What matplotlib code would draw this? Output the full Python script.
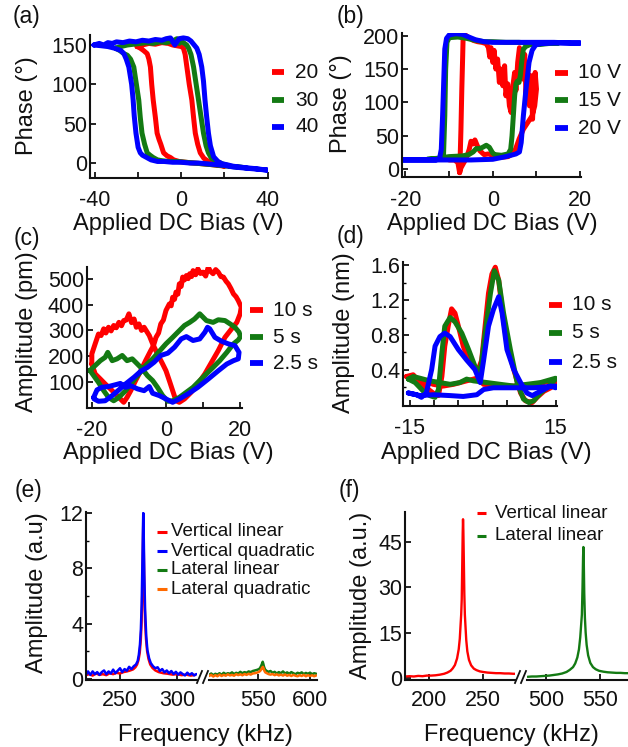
import matplotlib
matplotlib.use('Agg')
import matplotlib.pyplot as plt
from matplotlib.lines import Line2D

plt.rcParams['font.family'] = ['Liberation Sans', 'DejaVu Sans']
plt.rcParams['axes.unicode_minus'] = False

# ---------------- colours ----------------
RED = '#ff0000'
GREEN = '#137a13'
BLUE = '#0000ff'
ORANGE = '#ff6a00'
TXT = '#111111'

# ---------------- (a) phase loops, bias amplitude 20/30/40 V ----------------
A_LABELS = ['20', '30', '40']
A_RED = [(-20.5, 148), (-18, 150), (-15, 152), (-12, 151), (-9, 153), (-6, 152), (-4, 150), (-2, 149), (0, 148),
         (1, 146), (1.8, 138), (2.6, 122), (3.7, 100), (4.9, 80), (5.7, 58), (6.5, 38), (7.6, 24), (8.8, 13),
         (10.5, 6), (12.6, 2), (14.5, 0), (16.5, -2), (18.5, -3), (20.3, -4),
         (17, -3), (14, -2), (10, -1), (6, 0), (2, 1), (-1, 2), (-3.5, 4), (-5, 7), (-6.5, 9), (-8.2, 13),
         (-9.5, 24), (-10.3, 30), (-11.2, 38), (-12, 58), (-13, 80), (-13.7, 100), (-14.3, 122), (-15, 132),
         (-15.8, 139), (-17.5, 143), (-19, 146), (-20.5, 148)]
A_GREEN = [(-30.5, 146), (-28, 148), (-25, 150), (-22, 151), (-19, 152), (-16, 153), (-13, 152), (-10, 154),
           (-7, 153), (-4, 155), (-2, 158), (-1, 152), (0, 155), (1.5, 152), (2.5, 150), (3.4, 146), (4.5, 138),
           (5.7, 122), (6.8, 102), (8, 80), (9.2, 58), (10.3, 38), (11.5, 22), (12.6, 13), (14, 6), (16.5, 2),
           (19, -1), (22.6, -4), (26, -5), (30, -6),
           (26, -5), (22, -4), (18, -3), (14, -2), (10, -1), (6, 0), (2, 1), (-2, 2), (-6, 2), (-9, 3),
           (-11, 4), (-13, 7), (-14.5, 10), (-15.8, 13), (-17, 24), (-18.2, 38), (-19, 58), (-19.7, 80),
           (-20.8, 100), (-22, 122), (-23.5, 132), (-25, 137), (-26.6, 139), (-28.5, 143), (-30.5, 146)]
A_BLUE = [(-40.5, 150), (-38, 152), (-36, 150), (-34, 153), (-32, 152), (-30, 154), (-27, 153), (-24, 155),
          (-21, 154), (-18, 156), (-15, 155), (-12, 157), (-9, 156), (-7, 158), (-5, 159), (-3, 150),
          (-1, 158), (1, 159), (3, 158), (4.5, 155), (6, 150), (7.2, 146), (8.3, 138), (9.5, 122),
          (10.3, 104), (11, 80), (11.8, 58), (12.6, 38), (13.5, 22), (15, 8), (17, 2), (19, -1), (21, -2),
          (24, -4), (27, -5), (30, -6), (34, -7), (37, -8), (40, -9),
          (36, -8), (32, -7), (28, -6), (24, -5), (20, -3), (16, -2), (12, -1), (8, 0), (4, 0), (0, 1),
          (-4, 1), (-8, 2), (-11, 2), (-14, 4), (-16, 7), (-18, 10), (-19, 13), (-20, 20), (-21, 38),
          (-21.8, 60), (-22.3, 80), (-23, 100), (-24.3, 122), (-25.5, 132), (-26.6, 139), (-28, 143),
          (-31, 146), (-34, 148), (-37, 149), (-40.5, 150)]

# ---------------- (b) phase loops, 10/15/20 V ----------------
B_LABELS = ['10 V', '15 V', '20 V']
B_RED = [(-10, 14), (-8.8, 14), (-8.0, 10), (-7.6, -5), (-7.5, 12), (-7.3, 60), (-7.1, 120), (-6.9, 170),
         (-6.8, 198), (-6.3, 201), (-5.5, 197), (-4.5, 193), (-3.5, 191), (-2.5, 190), (-1.5, 188),
         (-1.0, 182), (-0.7, 168), (-0.4, 182), (0, 160), (0.3, 178), (0.7, 150), (1.1, 165), (1.5, 130),
         (1.9, 150), (2.3, 125), (2.7, 155), (3.0, 110), (3.4, 128), (3.8, 95), (4.2, 85), (4.6, 125),
         (5.0, 145), (5.3, 118), (5.7, 160), (6.1, 182), (6.5, 165), (6.9, 135), (7.3, 172), (7.6, 110),
         (8.0, 150), (8.4, 95), (8.8, 140), (9.1, 75), (9.4, 120), (9.7, 145), (10.0, 120),
         (9.6, 95), (9.0, 80), (8.0, 70), (7.0, 60), (6.0, 45), (5.2, 30), (4.5, 23), (3.5, 19), (2, 18),
         (1, 19), (0, 21), (-1, 23), (-2, 22), (-3, 28), (-3.6, 36), (-4.1, 44), (-4.5, 38), (-5, 42),
         (-5.4, 30), (-5.8, 22), (-6.2, 15), (-6.8, 8), (-7.3, 2), (-7.6, -5)]
B_GREEN = [(-15, 15), (-12, 16), (-11.3, 20), (-11.0, 80), (-10.8, 150), (-10.5, 190), (-10, 197), (-8, 198),
           (-6, 196), (-4, 193), (-2, 191), (0, 191), (3, 190), (6, 190), (8, 189), (10, 187), (12, 188),
           (15, 189),
           (12, 188), (9, 187), (8.3, 186), (7.6, 184), (7.0, 180), (6.6, 160), (6.3, 140), (6.0, 130),
           (5.6, 132), (5.3, 128), (5.0, 110), (4.7, 80), (4.4, 50), (4.1, 30), (3.5, 23), (2, 21),
           (0.5, 22), (0, 24), (-0.8, 33), (-1.5, 36), (-2.3, 33), (-3, 31), (-3.8, 31), (-4.5, 26),
           (-5.5, 22), (-7, 20), (-10, 19), (-12, 17), (-15, 15)]
B_BLUE = [(-20.5, 14), (-18, 14), (-15, 14), (-13, 14), (-12.2, 16), (-11.8, 30), (-11.5, 80), (-11.2, 140),
          (-11.0, 180), (-10.6, 196), (-10, 201), (-8.5, 203), (-7, 202), (-5.5, 198), (-4, 194), (-2, 191),
          (0, 190), (4, 190), (8, 190), (10, 190), (14, 190), (18, 189), (20, 189),
          (18, 189), (14, 189), (11, 188), (9.8, 186), (9.0, 178), (8.3, 160), (7.6, 120), (7.0, 80),
          (6.5, 40), (6.1, 26), (5.3, 23), (3, 19), (0, 15), (-5, 14), (-10, 14), (-15, 14), (-20.5, 14)]

# ---------------- (c) amplitude butterfly loops (pm) ----------------
C_LABELS = ['10 s', '5 s', '2.5 s']
C_RED = [(-20, 170), (-19.1, 132), (-17.7, 112), (-16.4, 93), (-15, 74), (-13.6, 54), (-12.3, 35),
         (-11.4, 22), (-10.5, 41), (-9.5, 67), (-8.2, 106), (-6.8, 144), (-5.5, 183), (-4.1, 222),
         (-3.4, 240), (-2.7, 273), (-2.0, 290), (-1.4, 325), (-0.7, 340), (0, 377), (0.9, 402), (1.4, 395),
         (1.8, 428), (2.3, 420), (2.7, 448), (3.2, 440), (3.6, 480), (4.1, 470), (4.5, 506), (5.0, 495),
         (5.5, 512), (6.0, 500), (6.4, 519), (6.9, 508), (7.3, 531), (8.0, 515), (8.6, 538), (9.3, 520),
         (10, 525), (10.7, 510), (11.4, 544), (12.0, 528), (12.7, 519), (13.4, 535), (14.1, 525),
         (14.8, 508), (15.5, 506), (16.2, 490), (16.8, 480), (17.5, 462), (18.2, 441), (18.9, 430),
         (19.5, 415), (20.3, 390),
         (20, 364), (19.1, 331), (17.7, 306), (15.9, 273), (14.1, 222), (12.3, 177), (10.5, 132),
         (8.6, 93), (6.8, 61), (5, 35), (3.6, 22), (2.7, 28), (1.8, 67), (0.9, 106), (0, 144),
         (-0.9, 170), (-2.3, 209), (-3.6, 248), (-4.5, 280), (-5.9, 312), (-6.6, 300), (-7.3, 325),
         (-8.0, 312), (-8.6, 344), (-9.3, 330), (-10, 364), (-10.7, 340), (-11.4, 338), (-12.0, 318),
         (-12.7, 331), (-13.4, 310), (-14.1, 319), (-14.8, 298), (-15.5, 312), (-16.2, 290), (-16.8, 306),
         (-17.5, 280), (-18.2, 286), (-19.1, 248), (-20, 209), (-20, 170)]
C_GREEN = [(-20.5, 145), (-19.1, 164), (-17.7, 183), (-16.4, 196), (-15.7, 215), (-14.5, 183), (-13.2, 190),
           (-11.8, 203), (-10.5, 183), (-9.1, 190), (-7.7, 170), (-6.4, 151), (-5, 125), (-3.6, 106),
           (-2.3, 80), (-0.9, 48), (0.5, 26), (1.8, 28), (3.6, 41), (5.5, 61), (7.3, 80), (9.1, 106),
           (10.9, 132), (12.7, 157), (14.5, 183), (16.4, 215), (18.2, 248), (19.5, 263), (20.1, 276),
           (19.7, 293), (18.6, 312), (17.3, 325), (15.9, 338), (14.1, 341), (12.7, 331), (10.9, 338),
           (9.1, 364), (7.7, 344), (6.4, 331), (5, 319), (3.6, 299), (1.8, 273), (0, 248), (-1.8, 219),
           (-3.6, 190), (-5.5, 164), (-7.3, 132), (-9.1, 99), (-10.9, 67), (-12.7, 41), (-14.1, 28),
           (-15.5, 41), (-16.8, 67), (-18.2, 99), (-19.5, 125), (-20.5, 145)]
C_BLUE = [(-19.5, 41), (-18.6, 70), (-17.3, 80), (-15.5, 83), (-13.6, 90), (-12.3, 95), (-10.9, 80),
          (-9.5, 86), (-7.7, 74), (-5.9, 67), (-4.5, 83), (-3.6, 57), (-1.8, 48), (0, 35), (1.8, 22),
          (3.6, 35), (5.9, 54), (8.6, 80), (11.4, 112), (14.1, 144), (16.4, 170), (18.2, 183), (19.5, 190),
          (19.7, 215), (18.6, 241), (16.8, 248), (15, 258), (13.2, 273), (11.8, 306), (11.2, 312),
          (10.5, 293), (9.1, 267), (7.3, 261), (5.5, 276), (4.1, 267), (2.3, 235), (0.5, 212), (-1.4, 203),
          (-3.2, 177), (-5, 157), (-6.8, 142), (-8.6, 119), (-10.9, 93), (-12.7, 70), (-14.5, 48),
          (-16.4, 28), (-18.2, 26), (-19.4, 35), (-19.5, 41)]

# ---------------- (d) amplitude loops (nm) ----------------
D_LABELS = ['10 s', '5 s', '2.5 s']
D_RED = [(-15.7, 0.32), (-14.3, 0.34), (-12.9, 0.25), (-11.6, 0.19), (-10.2, 0.13), (-9.1, 0.10),
         (-8.4, 0.32), (-7.8, 0.67), (-7.1, 0.90), (-6.4, 1.10), (-5.7, 1.05), (-5.0, 0.90), (-4.0, 0.67),
         (-2.9, 0.51), (-1.9, 0.44), (-0.9, 0.40), (-0.2, 0.51), (0.5, 0.90), (1.2, 1.28), (1.9, 1.50),
         (2.6, 1.58), (3.3, 1.43), (4.0, 1.09), (5.0, 0.70), (6.4, 0.40), (7.8, 0.13), (8.8, 0.04),
         (10.2, 0.02), (11.2, 0.08), (12.6, 0.15), (14.0, 0.19), (15.0, 0.23),
         (15.0, 0.29), (12.6, 0.25), (10.5, 0.23), (7.1, 0.21), (3.6, 0.21), (0.2, 0.23), (-1.2, 0.30),
         (-3.3, 0.27), (-6.0, 0.23), (-8.1, 0.21), (-10.2, 0.23), (-12.9, 0.29), (-15.0, 0.32), (-15.7, 0.32)]
D_GREEN = [(-15.3, 0.29), (-13.9, 0.25), (-12.2, 0.15), (-10.9, 0.10), (-9.8, 0.08), (-9.1, 0.17),
           (-8.4, 0.59), (-7.8, 0.90), (-6.7, 1.00), (-5.7, 0.95), (-4.3, 0.82), (-2.9, 0.63), (-1.6, 0.44),
           (-0.5, 0.36), (0.5, 0.82), (1.6, 1.28), (2.4, 1.54), (3.3, 1.43), (4.3, 1.05), (5.7, 0.63),
           (7.1, 0.25), (8.4, 0.06), (9.5, 0.02), (10.5, 0.04), (11.9, 0.13), (13.6, 0.21), (15.0, 0.29),
           (15.0, 0.30), (11.9, 0.25), (9.1, 0.23), (6.4, 0.21), (3.6, 0.23), (0.9, 0.25), (-1.9, 0.27),
           (-3.3, 0.29), (-4.7, 0.25), (-6.7, 0.23), (-8.8, 0.25), (-10.9, 0.27), (-12.9, 0.30),
           (-14.3, 0.32), (-15.3, 0.29)]
D_BLUE = [(-15.3, 0.13), (-13.6, 0.11), (-12.6, 0.08), (-11.6, 0.13), (-10.5, 0.40), (-9.8, 0.67),
          (-8.8, 0.78), (-7.8, 0.82), (-6.7, 0.78), (-5.0, 0.63), (-3.3, 0.51), (-1.6, 0.40), (-0.5, 0.25),
          (0.2, 0.51), (1.2, 0.90), (2.2, 1.09), (3.3, 1.24), (4.0, 1.05), (5.0, 0.63), (6.4, 0.40),
          (7.8, 0.25), (9.1, 0.13), (10.2, 0.10), (11.2, 0.13), (12.6, 0.17), (14.0, 0.21), (15.0, 0.19),
          (15.0, 0.21), (10.5, 0.19), (6.4, 0.19), (2.2, 0.19), (0.2, 0.17), (-1.2, 0.11), (-4.0, 0.09),
          (-6.7, 0.10), (-10.2, 0.11), (-12.9, 0.10), (-15.3, 0.13)]

# ---------------- (e) contact resonance spectra ----------------
E_LABELS = ['Vertical linear', 'Vertical quadratic', 'Lateral linear', 'Lateral quadratic']
E_RED = [(220.5, 0.30), (223, 0.35), (226, 0.25), (229, 0.40), (232, 0.30), (235, 0.35), (238, 0.28),
         (241, 0.42), (244, 0.35), (247, 0.45), (250, 0.40), (253, 0.50), (256, 0.55), (259, 0.62),
         (261.5, 0.70), (263.5, 0.85), (265, 1.05), (266.3, 1.40), (267.3, 1.90), (268.2, 2.80),
         (268.9, 4.00), (269.5, 6.00), (270.0, 8.80), (270.4, 11.2), (270.8, 9.5), (271.3, 6.5),
         (272.0, 4.2), (272.8, 2.9), (273.8, 2.0), (275, 1.45), (276.5, 1.05), (278.5, 0.80), (281, 0.62),
         (284, 0.50), (288, 0.42), (292, 0.38), (296, 0.32), (300, 0.35), (304, 0.28), (308, 0.32),
         (312, 0.25), (316, 0.30)]
E_BLUE = [(220.5, 0.35), (222, 0.55), (224, 0.30), (226, 0.55), (228, 0.35), (230, 0.50), (232, 0.30),
          (234, 0.50), (236, 0.62), (238, 0.35), (240, 0.55), (242, 0.40), (244, 0.68), (246, 0.42),
          (248, 0.60), (250, 0.78), (252, 0.50), (254, 0.72), (256, 0.60), (258, 0.88), (260, 0.72),
          (262, 0.92), (264, 1.05), (265.5, 1.30), (266.5, 1.75), (267.5, 2.50), (268.3, 3.60),
          (269.0, 5.40), (269.6, 8.20), (270.1, 10.8), (270.4, 12.0), (270.8, 10.4), (271.3, 7.6),
          (272.0, 5.0), (273.0, 3.1), (274.0, 2.1), (275.5, 1.5), (277, 1.15), (279, 0.92), (281, 0.78),
          (283, 0.85), (285, 0.58), (287, 0.72), (289, 0.48), (291, 0.62), (293, 0.42), (295, 0.58),
          (297, 0.36), (299, 0.52), (301, 0.32), (303, 0.48), (305, 0.36), (307, 0.26), (309, 0.46),
          (311, 0.30), (313, 0.42), (315, 0.26), (317, 0.36)]
E_GREEN = [(503, 0.30), (505, 0.40), (507, 0.28), (509, 0.38), (511, 0.32), (513, 0.42), (515, 0.30),
           (517, 0.45), (519, 0.35), (521, 0.42), (523, 0.38), (525, 0.48), (527, 0.36), (529, 0.45),
           (531, 0.40), (533, 0.52), (535, 0.42), (537, 0.50), (539, 0.45), (541, 0.55), (543, 0.50),
           (545, 0.58), (547, 0.62), (549, 0.66), (551, 0.72), (552, 0.80), (553, 0.95), (553.8, 1.10),
           (554.5, 1.25), (555.1, 1.10), (555.8, 0.88), (556.7, 0.70), (558, 0.60), (560, 0.52),
           (562, 0.58), (564, 0.45), (566, 0.52), (568, 0.40), (570, 0.50), (572, 0.42), (574, 0.55),
           (576, 0.40), (578, 0.48), (580, 0.38), (582, 0.50), (584, 0.42), (586, 0.35), (588, 0.45),
           (590, 0.40), (592, 0.48), (594, 0.36), (596, 0.44), (598, 0.38), (600, 0.46), (602, 0.35),
           (604, 0.42), (606, 0.38)]
E_ORANGE = [(503, 0.22), (505, 0.30), (507, 0.18), (509, 0.28), (511, 0.20), (513, 0.32), (515, 0.22),
            (517, 0.30), (519, 0.24), (521, 0.34), (523, 0.26), (525, 0.30), (527, 0.24), (529, 0.35),
            (531, 0.28), (533, 0.34), (535, 0.27), (537, 0.36), (539, 0.30), (541, 0.38), (543, 0.32),
            (545, 0.40), (547, 0.42), (549, 0.46), (551, 0.52), (552, 0.58), (553, 0.68), (554, 0.82),
            (554.7, 0.88), (555.4, 0.76), (556.1, 0.60), (557, 0.48), (558.5, 0.42), (560, 0.36),
            (562, 0.32), (564, 0.36), (566, 0.28), (568, 0.34), (570, 0.26), (572, 0.32), (574, 0.25),
            (576, 0.33), (578, 0.24), (580, 0.30), (582, 0.22), (584, 0.30), (586, 0.24), (588, 0.20),
            (590, 0.28), (592, 0.22), (594, 0.30), (596, 0.20), (598, 0.28), (600, 0.22), (602, 0.27),
            (604, 0.20), (606, 0.26)]

# ---------------- (f) free resonance spectra ----------------
F_LABELS = ['Vertical linear', 'Lateral linear']
F_RED = [(178, 0.5), (182, 0.6), (186, 0.5), (190, 0.7), (194, 0.6), (198, 0.8), (202, 0.8), (206, 0.9),
         (210, 1.1), (214, 1.4), (217, 1.8), (220, 2.4), (222, 3.2), (224, 4.3), (226, 6.5), (227.5, 9.5),
         (228.5, 13), (229.3, 18), (229.8, 21), (230.3, 26), (230.8, 38), (231.2, 48), (231.5, 52.6),
         (231.8, 49), (232.2, 40), (232.7, 28), (233.2, 21), (233.8, 17), (234.5, 12.5), (235.5, 8.8),
         (237, 6.0), (239, 4.2), (241.5, 3.1), (244, 2.6), (247, 2.2), (250, 2.0), (254, 1.8), (258, 1.7),
         (262, 1.6), (266, 1.6), (270, 1.5), (274, 1.5), (278, 1.4), (280, 1.4)]
F_GREEN = [(483, 0.4), (487, 0.5), (491, 0.5), (495, 0.6), (499, 0.7), (503, 0.8), (507, 1.0), (511, 1.2),
           (515, 1.5), (519, 2.0), (522, 2.7), (525, 3.6), (527, 4.8), (529, 6.8), (530.5, 9.5),
           (531.7, 13.5), (532.6, 18), (533.2, 21), (533.8, 30), (534.3, 40), (534.6, 43.4), (534.9, 40),
           (535.4, 28), (536, 20), (536.7, 15), (537.6, 11), (539, 7.5), (541, 5.0), (543.5, 3.6),
           (546, 2.9), (549, 2.4), (553, 2.1), (557, 1.9), (561, 1.8), (565, 1.7), (569, 1.7), (573, 1.6),
           (576, 1.6)]

# ---------------- layout helpers ----------------
W, H = 628, 747
fig = plt.figure(figsize=(W / 100, H / 100), dpi=100)

TICK_FS = 15.5
LAB_FS = 17
LEG_FS = 15
LEG_FS_SMALL = 13.5
PAN_FS = 16.5


def rect(l, t, r, b):
    return [l / W, 1 - b / H, (r - l) / W, (b - t) / H]


def fx(px):
    return px / W


def fy(py):
    return 1 - py / H


def make_ax(l, t, r, b, xlim, ylim, left=True, xpad=9):
    ax = fig.add_axes(rect(l, t, r, b))
    ax.set_xlim(*xlim)
    ax.set_ylim(*ylim)
    ax.patch.set_alpha(0)
    for s in ['top', 'right']:
        ax.spines[s].set_visible(False)
    for s in ['left', 'bottom']:
        ax.spines[s].set_linewidth(1.5)
        ax.spines[s].set_color('#111111')
    if not left:
        ax.spines['left'].set_visible(False)
        ax.set_yticks([])
    ax.tick_params(direction='in', length=4, width=1.3, labelsize=TICK_FS, colors=TXT)
    ax.tick_params(axis='x', pad=xpad)
    ax.tick_params(axis='y', pad=2)
    ax.tick_params(which='minor', direction='in', length=2.5, width=1.0)
    return ax


def ticks(ax, axis, values, labels):
    if axis == 'x':
        ax.set_xticks(values)
        ax.set_xticklabels(labels)
    else:
        ax.set_yticks(values)
        ax.set_yticklabels(labels)


def draw(ax, pts, color, lw):
    xs = [p[0] for p in pts]
    ys = [p[1] for p in pts]
    ax.plot(xs, ys, color=color, lw=lw, solid_joinstyle='round', solid_capstyle='round')


def legend(labels, colors, x0, x1, xt, ys, fs, lw):
    for lab, col, y in zip(labels, colors, ys):
        fig.add_artist(Line2D([fx(x0), fx(x1)], [fy(y), fy(y)], transform=fig.transFigure,
                              color=col, lw=lw, solid_capstyle='butt'))
        fig.text(fx(xt), fy(y), lab, fontsize=fs, ha='left', va='center', color=TXT)


def label(x, y, s, fs=LAB_FS, rot=0):
    fig.text(fx(x), fy(y), s, fontsize=fs, ha='center', va='center', rotation=rot, color=TXT)


def brk(x, y):
    for dx in (0, 6):
        fig.add_artist(Line2D([fx(x + dx), fx(x + dx + 5)], [fy(y + 6), fy(y - 6)],
                              transform=fig.transFigure, color='#111111', lw=1.3))


LW = 3.6
COLS3 = [RED, GREEN, BLUE]

# ---------------- (a) ----------------
ax = make_ax(90, 35, 268, 178, (-42.3, 40.2), (-19, 162.7))
for pts, c in zip([A_RED, A_GREEN, A_BLUE], COLS3):
    draw(ax, pts, c, LW)
ticks(ax, 'x', [-40, -20, 0, 20, 40], ['-40', '', '0', '', '40'])
ticks(ax, 'y', [0, 50, 100, 150], ['0', '50', '100', '150'])
legend(A_LABELS, COLS3, 272, 284, 295, [72, 100, 127], LEG_FS, 4.2)
label(27, 106, 'Phase (°)', rot=90)
label(178, 224, 'Applied DC Bias (V)')
label(27, 17, '(a)', fs=PAN_FS)

# ---------------- (b) ----------------
ax = make_ax(402, 33, 581, 177, (-20.8, 20.2), (-11.5, 204))
for pts, c in zip([B_RED, B_GREEN, B_BLUE], COLS3):
    draw(ax, pts, c, LW)
ticks(ax, 'x', [-20, -10, 0, 10, 20], ['-20', '', '0', '', '20'])
ticks(ax, 'y', [0, 50, 100, 150, 200], ['0', '50', '100', '150', '200'])
legend(B_LABELS, COLS3, 555, 568, 578, [73, 100, 128], LEG_FS, 4.2)
label(341, 104, 'Phase (°)', rot=90)
label(492, 224, 'Applied DC Bias (V)')
label(351, 17, '(b)', fs=PAN_FS)

# ---------------- (c) ----------------
ax = make_ax(87, 267, 242, 408, (-21.3, 20.5), (0, 545))
for pts, c in zip([C_RED, C_GREEN, C_BLUE], COLS3):
    draw(ax, pts, c, LW)
ticks(ax, 'x', [-20, -10, 0, 10, 20], ['-20', '', '0', '', '20'])
ticks(ax, 'y', [100, 200, 300, 400, 500], ['100', '200', '300', '400', '500'])
legend(C_LABELS, COLS3, 250, 263, 273, [310, 337, 363], LEG_FS, 4.2)
label(27, 332, 'Amplitude (pm)', rot=90)
label(168, 453, 'Applied DC Bias (V)')
label(27, 238, '(c)', fs=PAN_FS)

# ---------------- (d) ----------------
ax = make_ax(403, 262, 557, 406, (-16.4, 15.3), (-0.02, 1.64))
for pts, c in zip([D_RED, D_GREEN, D_BLUE], COLS3):
    draw(ax, pts, c, LW)
ticks(ax, 'x', [-15, -10, -5, 0, 5, 10, 15], ['-15', '', '', '', '', '', '15'])
ticks(ax, 'y', [0.4, 0.8, 1.2, 1.6], ['0.4', '0.8', '1.2', '1.6'])
ax.set_yticks([0.2, 0.6, 1.0, 1.4], minor=True)
legend(D_LABELS, COLS3, 549, 562, 572, [305, 333, 362], LEG_FS, 4.2)
label(344, 333, 'Amplitude (nm)', rot=90)
label(486, 453, 'Applied DC Bias (V)')
label(351, 237, '(d)', fs=PAN_FS)

# ---------------- (e) ----------------
ELW = 1.8
ax1 = make_ax(86, 512, 197, 680, (220.2, 317.5), (-0.07, 12.07), xpad=7.5)
draw(ax1, E_RED, RED, ELW)
draw(ax1, E_BLUE, BLUE, ELW)
ticks(ax1, 'x', [250, 300], ['250', '300'])
ticks(ax1, 'y', [0, 4, 8, 12], ['0', '4', '8', '12'])
ax1.set_yticks([2, 6, 10], minor=True)
ax2 = make_ax(209, 512, 317, 680, (502.9, 606.7), (-0.07, 12.07), left=False, xpad=7.5)
draw(ax2, E_GREEN, GREEN, ELW)
draw(ax2, E_ORANGE, ORANGE, ELW)
ticks(ax2, 'x', [550, 600], ['550', '600'])
brk(197, 677)
legend(E_LABELS, [RED, BLUE, GREEN, ORANGE], 157, 167, 171, [532, 551, 570, 589], LEG_FS_SMALL, 2.2)
label(37, 593, 'Amplitude (a.u)', rot=90)
label(205, 735, 'Frequency (kHz)')
label(29, 491, '(e)', fs=PAN_FS)

# ---------------- (f) ----------------
FLW = 1.7
ax1 = make_ax(405, 512, 515, 680, (177.8, 279.6), (-0.66, 55), xpad=7)
draw(ax1, F_RED, RED, FLW)
ticks(ax1, 'x', [200, 250], ['200', '250'])
ticks(ax1, 'y', [0, 15, 30, 45], ['0', '15', '30', '45'])
ax2 = make_ax(527, 512, 628, 680, (482.4, 575.9), (-0.66, 55), left=False, xpad=7)
draw(ax2, F_GREEN, GREEN, FLW)
ticks(ax2, 'x', [500, 550], ['500', '550'])
brk(515, 677)
legend(F_LABELS, [RED, GREEN], 477, 486, 495, [513, 536], LEG_FS_SMALL, 2.2)
label(361, 595, 'Amplitude (a.u.)', rot=90)
label(511, 735, 'Frequency (kHz)')
label(349, 491, '(f)', fs=PAN_FS)

fig.savefig('out.png', dpi=100)
